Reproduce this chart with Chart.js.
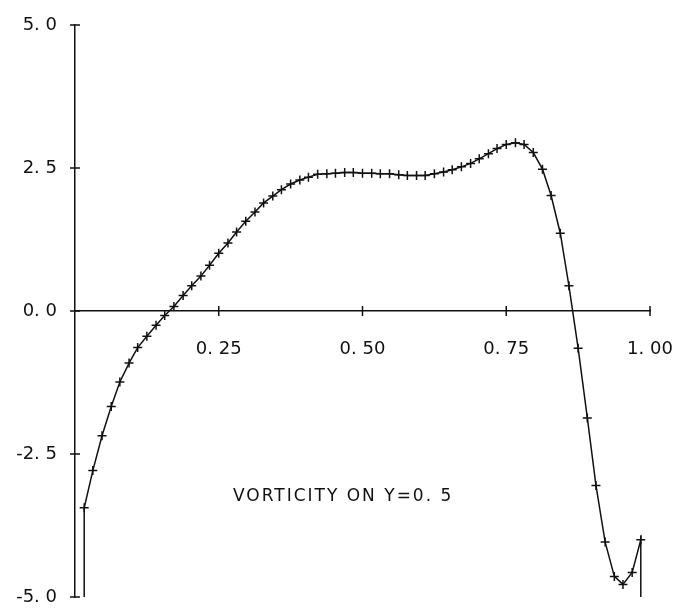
<!DOCTYPE html>
<html>
<head>
<meta charset="utf-8">
<script src="https://cdn.jsdelivr.net/npm/chart.js@4"></script>
<style>
    html, body { margin: 0; padding: 0; background: #fff; }
    canvas { display: block; }
</style>
</head>
<body>
<canvas id="vorticityChart" width="685" height="610"></canvas>
<script>
// grid positions along the line y = 0.5
const xValues = [
    0.016, 0.031, 0.047, 0.063, 0.078, 0.094, 0.109, 0.125, 0.141, 0.156,
    0.172, 0.188, 0.203, 0.219, 0.234, 0.250, 0.266, 0.281, 0.297, 0.313,
    0.328, 0.344, 0.359, 0.375, 0.391, 0.406, 0.422, 0.438, 0.453, 0.469,
    0.484, 0.500, 0.516, 0.531, 0.547, 0.563, 0.578, 0.594, 0.609, 0.625,
    0.641, 0.656, 0.672, 0.688, 0.703, 0.719, 0.734, 0.750, 0.766, 0.781,
    0.797, 0.813, 0.828, 0.844, 0.859, 0.875, 0.891, 0.906, 0.922, 0.938,
    0.953, 0.969, 0.984
];

// vorticity
const vorticity = [
    -3.44, -2.79, -2.18, -1.67, -1.24, -0.91, -0.64, -0.44, -0.25, -0.08,
     0.08,  0.27,  0.44,  0.61,  0.80,  1.01,  1.19,  1.38,  1.57,  1.73,
     1.89,  2.01,  2.12,  2.22,  2.29,  2.34,  2.39,  2.40,  2.41,  2.42,
     2.42,  2.41,  2.41,  2.40,  2.40,  2.38,  2.37,  2.37,  2.37,  2.40,
     2.43,  2.47,  2.52,  2.58,  2.66,  2.75,  2.84,  2.91,  2.94,  2.91,
     2.77,  2.48,  2.02,  1.36,  0.44, -0.65, -1.87, -3.05, -4.04, -4.64,
    -4.78, -4.57, -4.00
];

// the wall values run off the bottom of the plot
const wallValue = -5;

const xTickValues = [0.25, 0.5, 0.75, 1.0];
const xTickLabels = ['0. 25', '0. 50', '0. 75', '1. 00'];
const yTickValues = [-5, -2.5, 0, 2.5, 5];
const yTickLabels = ['-5. 0', '-2. 5', '0. 0', '2. 5', '5. 0'];

const captionText = 'VORTICITY ON Y=0. 5';

const ink = '#111';

const points = xValues.map((x, i) => ({ x: x, y: vorticity[i] }));
points.unshift({ x: xValues[0], y: wallValue });
points.push({ x: xValues[xValues.length - 1], y: wallValue });

// ticks that cross the axis lines, plus the caption
const plotterMarks = {
    id: 'plotterMarks',
    afterDraw(chart) {
        const { ctx, scales: { x, y } } = chart;
        const y0 = y.getPixelForValue(0);
        const x0 = x.getPixelForValue(0);
        ctx.save();
        ctx.strokeStyle = ink;
        ctx.lineWidth = 1.5;
        ctx.beginPath();
        xTickValues.forEach(v => {
            const px = x.getPixelForValue(v);
            ctx.moveTo(px, y0 - 5);
            ctx.lineTo(px, y0 + 5);
        });
        yTickValues.forEach(v => {
            const py = y.getPixelForValue(v);
            ctx.moveTo(x0 - 5, py);
            ctx.lineTo(x0 + 5, py);
        });
        ctx.stroke();

        ctx.fillStyle = ink;
        ctx.font = '17px "DejaVu Sans"';
        ctx.letterSpacing = '2px';
        ctx.textBaseline = 'middle';
        ctx.textAlign = 'left';
        ctx.fillText(captionText, 233, 497);
        ctx.restore();
    }
};

// keep the scales from pushing the plot area around
const noPadding = s => {
    s.paddingLeft = 0;
    s.paddingRight = 0;
    s.paddingTop = 0;
    s.paddingBottom = 0;
};

Chart.defaults.font.family = '"DejaVu Sans"';
Chart.defaults.color = ink;

new Chart(document.getElementById('vorticityChart'), {
    type: 'line',
    data: {
        datasets: [{
            data: points,
            borderColor: ink,
            borderWidth: 1.5,
            pointStyle: 'cross',
            pointRadius: ctx => (ctx.dataIndex === 0 || ctx.dataIndex === points.length - 1) ? 0 : 4.5,
            pointBorderColor: ink,
            pointBorderWidth: 1.5,
            tension: 0,
            clip: false
        }]
    },
    options: {
        responsive: false,
        animation: false,
        devicePixelRatio: 1,
        layout: {
            padding: { left: 0, right: 35, top: 25, bottom: 13 }
        },
        plugins: {
            legend: { display: false },
            tooltip: { enabled: false }
        },
        scales: {
            x: {
                type: 'linear',
                min: 0,
                max: 1,
                position: { y: 0 },
                grid: { display: false, drawTicks: false },
                border: { display: true, color: ink, width: 1.5 },
                afterBuildTicks: s => { s.ticks = xTickValues.map(v => ({ value: v })); },
                afterFit: s => { s.height = 0; noPadding(s); },
                ticks: {
                    autoSkip: false,
                    maxRotation: 0,
                    padding: 28,
                    font: { size: 18 },
                    callback: (v, i) => xTickLabels[i]
                }
            },
            y: {
                type: 'linear',
                min: -5,
                max: 5,
                position: 'left',
                grid: { display: false, drawTicks: false },
                border: { display: true, color: ink, width: 1.5 },
                afterBuildTicks: s => { s.ticks = yTickValues.map(v => ({ value: v })); },
                afterFit: s => { s.width = 75; noPadding(s); },
                ticks: {
                    autoSkip: false,
                    padding: 18,
                    font: { size: 18 },
                    callback: (v, i) => yTickLabels[i]
                }
            }
        }
    },
    plugins: [plotterMarks]
});
</script>
</body>
</html>
